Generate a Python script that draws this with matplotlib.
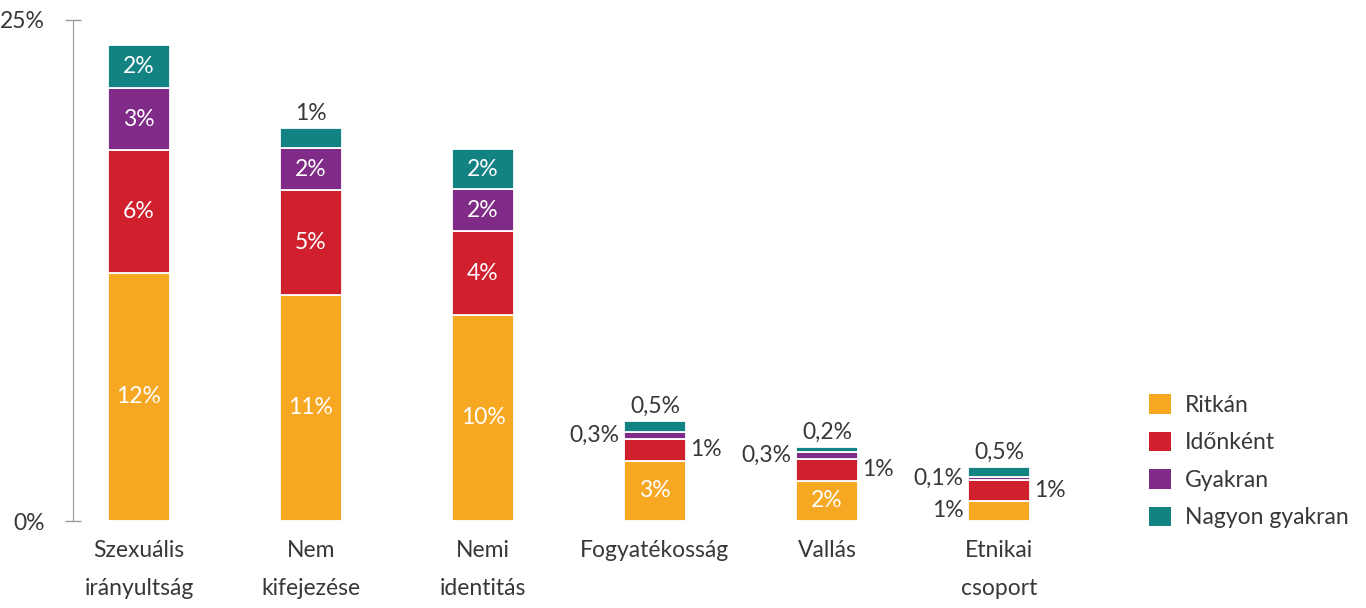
import matplotlib.pyplot as plt
from matplotlib.patches import Patch
import numpy as np

categories = ["Szexuális\nirányultság", "Nem\nkifejezése", "Nemi\nidentitás",
              "Fogyatékosság", "Vallás", "Etnikai\ncsoport"]
series = ["Ritkán", "Időnként", "Gyakran", "Nagyon gyakran"]
ritkan = [12.4, 11.3, 10.3, 3.0, 2.0, 1.0]
idonkent = [6.1, 5.2, 4.15, 1.1, 1.1, 1.05]
gyakran = [3.1, 2.1, 2.1, 0.34, 0.33, 0.14]
nagyon = [2.15, 1.0, 2.0, 0.54, 0.24, 0.5]
colors = ["#F7A823", "#D0202E", "#7F2B87", "#128283"]
yticks = [0, 25]

plt.rcParams['font.family'] = ['Lato', 'DejaVu Sans']
TXT = "#383838"
FS = 16.5


def fmt(v):
    if v >= 1:
        return f"{round(v)}%"
    return f"{v:.1f}".replace(".", ",") + "%"


fig = plt.figure(figsize=(13.66, 6.08), dpi=100)
ax = fig.add_axes([73 / 1366, 87 / 608, (1100 - 73) / 1366, 501 / 608])

x = np.arange(len(categories))
data = [ritkan, idonkent, gyakran, nagyon]
bottom = np.zeros(len(categories))
for vals, col in zip(data, colors):
    ax.bar(x, vals, 0.36, bottom=bottom, color=col, edgecolor="white", linewidth=1.3)
    bottom += np.array(vals)

# value labels: inside for big segments, around the bar for small ones
bottom = np.zeros(len(categories))
for si, vals in enumerate(data):
    for i, v in enumerate(vals):
        mid = bottom[i] + v / 2
        top = bottom[i] + v
        lab = fmt(v)
        small = i >= 3
        if not small and not (si == 3 and v < 1.5):
            ax.text(i, mid, lab, ha="center", va="center", color="white", fontsize=FS)
        elif si == 3:
            ax.annotate(lab, (i, top), xytext=(0, 3), textcoords="offset points",
                        ha="center", va="bottom", color=TXT, fontsize=FS)
        elif si == 0 and v >= 1.5:
            ax.text(i, mid, lab, ha="center", va="center", color="white", fontsize=FS)
        elif si == 1:
            ax.annotate(lab, (i + 0.18, mid), xytext=(3, 0), textcoords="offset points",
                        ha="left", va="center", color=TXT, fontsize=FS)
        else:
            ax.annotate(lab, (i - 0.18, mid), xytext=(-3, 0), textcoords="offset points",
                        ha="right", va="center", color=TXT, fontsize=FS)
    bottom += np.array(vals)

ax.set_xlim(-66 / 172, (1100 - 139) / 172)
ax.set_ylim(0, 25)
ax.set_yticks(yticks)
ax.set_yticklabels([f"{t}%" for t in yticks], fontsize=FS, color=TXT)
ax.tick_params(axis="y", direction="inout", length=12, width=1, color="#999999", pad=14)
ax.set_xticks(x)
ax.set_xticklabels(categories, fontsize=FS, color=TXT, linespacing=1.95)
ax.tick_params(axis="x", length=0, pad=14)
for s in ["top", "right", "bottom"]:
    ax.spines[s].set_visible(False)
ax.spines["left"].set_color("#999999")

handles = [Patch(facecolor=c, edgecolor="none") for c in colors]
fig.legend(handles, series, loc="upper left", bbox_to_anchor=(1149 / 1366, 1 - 394 / 608),
           frameon=False, fontsize=FS, handlelength=0.95, handleheight=0.95,
           labelspacing=0.69, handletextpad=0.6, borderpad=0, borderaxespad=0,
           labelcolor=TXT)

fig.savefig("out.png", dpi=100)
